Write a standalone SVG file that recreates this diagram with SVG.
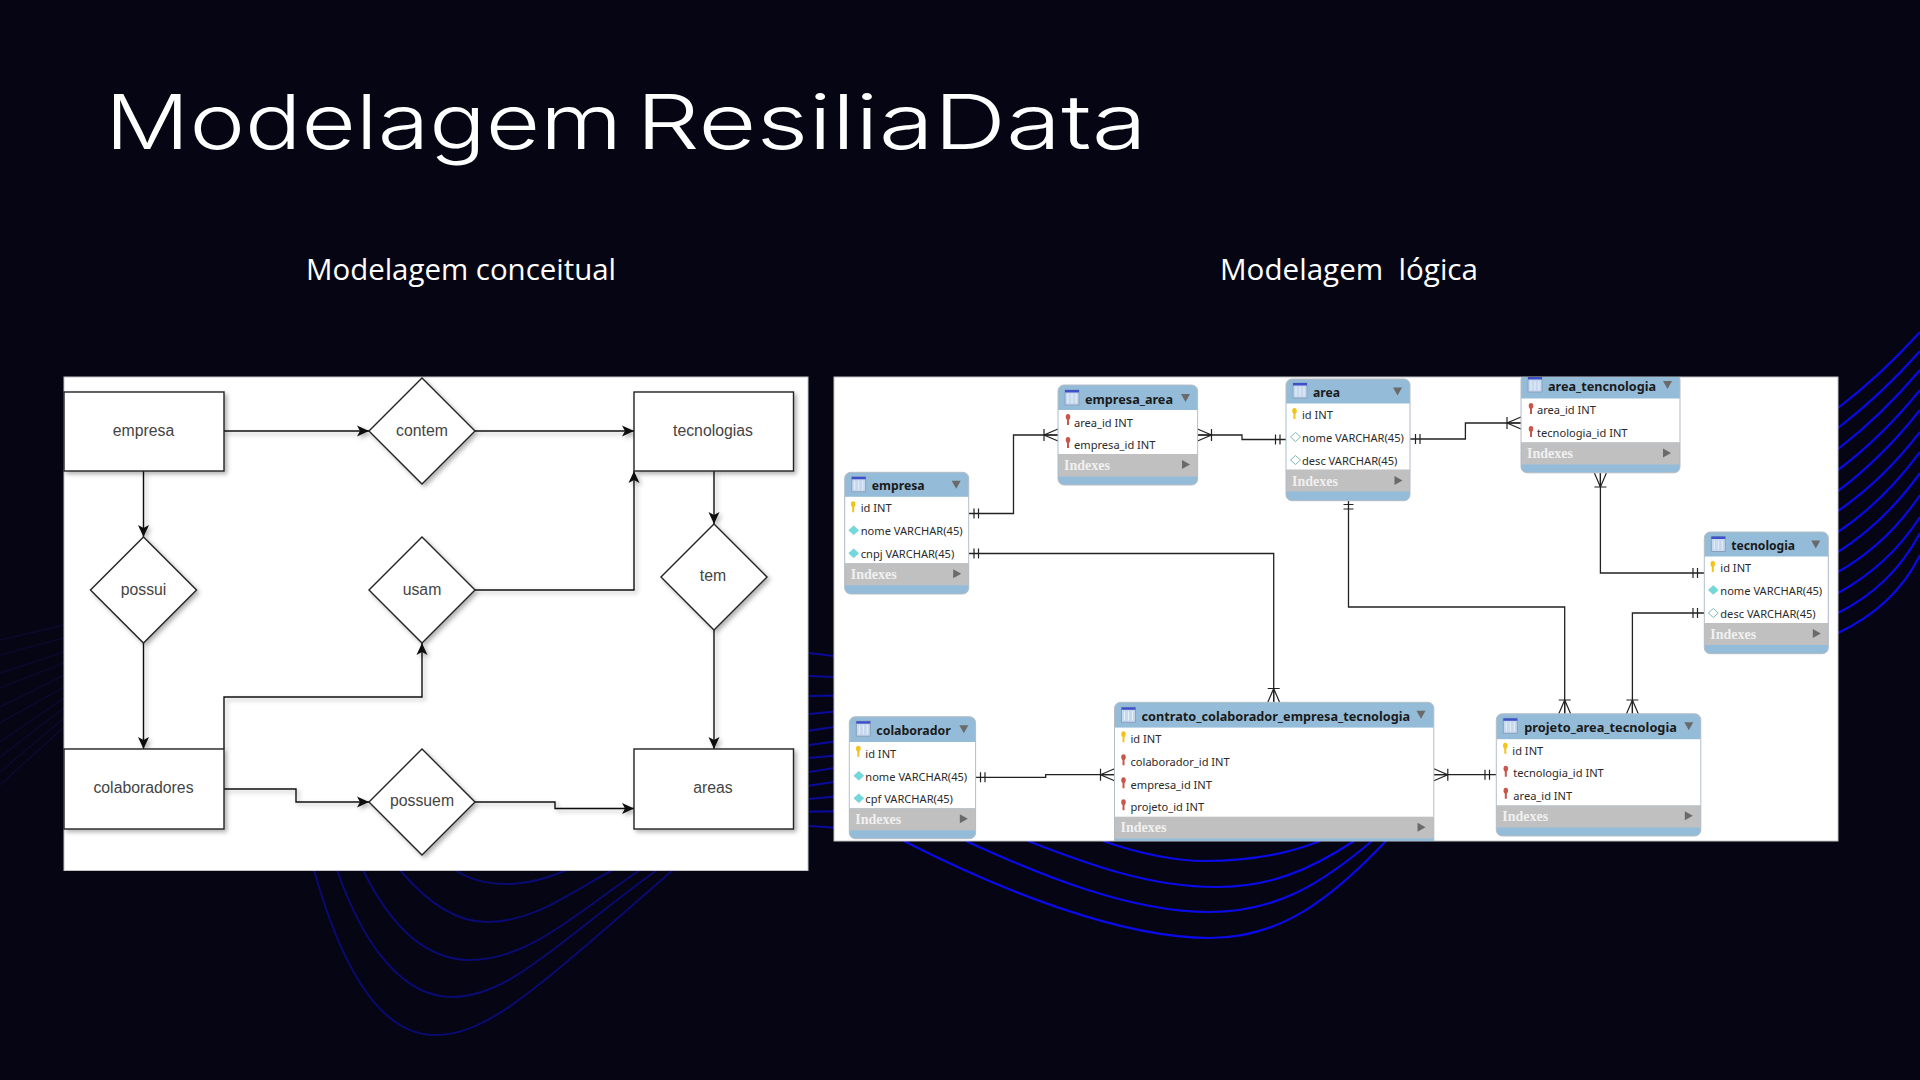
<svg xmlns="http://www.w3.org/2000/svg" width="1920" height="1080" viewBox="0 0 1920 1080">
<defs>
<style>
.title{font-family:"Inter","Liberation Sans",sans-serif;font-weight:300;font-size:76px;fill:#fff}
.sub{font-family:"Open Sans","Liberation Sans",sans-serif;font-size:29px;font-weight:400;fill:#fff;white-space:pre}
.er{fill:#fff;stroke:#222;stroke-width:1.4;filter:url(#sh)}
.lb{font-family:"Liberation Sans",Arial,sans-serif;font-size:15.800px;fill:#444;text-anchor:middle}
.cn{fill:none;stroke:#111;stroke-width:1.4}
.ca{marker-end:url(#arr)}
.wb{fill:none;stroke:#0a0ae6;stroke-width:2.200}
.wm{fill:none;stroke:#0a0a96;stroke-width:2.200}
.wd{fill:none;stroke:#0a0a70;stroke-width:2}
.wf{fill:none;stroke:#09092a;stroke-width:1.800}
.lk{fill:none;stroke:#222;stroke-width:1.3}
.tb{fill:#94bcd8;stroke:#b4bcc4;stroke-width:1}
.bd{fill:#fff}
.gr{fill:#c0c0c0}
.tt{font-family:"Noto Sans","Liberation Sans",sans-serif;font-weight:700;font-size:13px;fill:#1a1a1a}
.rw{font-family:"Noto Sans","Liberation Sans",sans-serif;font-size:11.100px;fill:#2a2a2a}
.ix{font-family:"Liberation Serif",serif;font-weight:700;font-size:14px;fill:#f0f0f0}
.ar{fill:#6a6a6a}
.ky{fill:#f0c419}
.kr{fill:#c9564a}
.dc{fill:#6fd9dc;stroke:#8cc6c8;stroke-width:.6}
.de{fill:#fff;stroke:#7fb8b8;stroke-width:1}
</style>
<filter id="sh" x="-20%" y="-20%" width="150%" height="150%"><feDropShadow dx="2.500" dy="2.500" stdDeviation="2" flood-color="#000" flood-opacity=".3"/></filter>
<marker id="arr" viewBox="0 -6 13 12" refX="12" refY="0" markerUnits="userSpaceOnUse" markerWidth="13" markerHeight="12" orient="auto"><path d="M0 -5.500L12 0L0 5.500L3 0Z" fill="#111"/></marker>
<clipPath id="rp"><rect x="834" y="377" width="1004" height="464"/></clipPath>
<g id="ti"><rect x="0" y="0" width="14" height="15" fill="#c6d8ee" stroke="#8aa0bc" stroke-width="1"/><rect x="0" y="0" width="14" height="2.500" fill="#3d50c8"/><path d="M3 4V13M7 4V13M11 4V13" stroke="#e8f0f8" stroke-width="1"/></g>
<path id="tr" d="M0 0H9L4.500 8Z"/>
<path id="tg" d="M0 0L8 4.500L0 9Z"/>
<path id="k" d="M-2.300 -3A2.300 3 0 0 1 2.300 -3C2.300 -1.200 1.200 -.4 1 0V5H-1V0C-1.200 -.4 -2.300 -1.200 -2.300 -3Z"/>
<path id="d" d="M0 -4.500L5 0L0 4.500L-5 0Z"/>
<path id="cf" d="M0 -6L-14 0L0 6M-14 -6V6M-14 0H0" fill="none" stroke="#222" stroke-width="1.200"/>
<path id="db" d="M0 -5V5M4.500 -5V5" fill="none" stroke="#222" stroke-width="1.200"/>
</defs>

<rect id="background" width="1920" height="1080" fill="#050514"/>

<g id="waves">
<path class="wb" d="M1838 408Q1880 376 1920 332"/>
<path class="wb" d="M1838 428Q1881 395 1920 351"/>
<path class="wb" d="M1838 449Q1881 416 1920 370"/>
<path class="wb" d="M1838 470Q1882 437 1920 390"/>
<path class="wb" d="M1838 491Q1882 458 1920 410"/>
<path class="wb" d="M1838 511Q1883 480 1920 432"/>
<path class="wb" d="M1838 532Q1884 501 1920 452"/>
<path class="wb" d="M1838 552Q1885 522 1920 473"/>
<path class="wb" d="M1838 572Q1887 544 1920 495"/>
<path class="wb" d="M1838 593Q1889 565 1920 517"/>
<path class="wb" d="M1838 613Q1892 586 1920 533"/>
<path class="wb" d="M1838 633Q1895 606 1920 555"/>
<path class="wm" d="M809 653L834 656"/>
<path class="wm" d="M809 676L834 677"/>
<path class="wm" d="M809 696L834 695.700"/>
<path class="wm" d="M809 714L834 711.700"/>
<path class="wm" d="M809 730.700L834 727"/>
<path class="wm" d="M809 745L834 741.700"/>
<path class="wm" d="M809 758L834 755.700"/>
<path class="wm" d="M809 772L834 768"/>
<path class="wm" d="M809 785.700L834 782"/>
<path class="wm" d="M809 799L834 796.700"/>
<path class="wm" d="M809 811.700L834 811.300"/>
<path class="wm" d="M809 826L834 827.700"/>
<path class="wb" d="M904 841C1000 890 1120 938 1210 938C1280 938 1330 900 1386 841"/>
<path class="wb" d="M966 841C1040 875 1130 912 1209 912C1275 912 1320 885 1372 841"/>
<path class="wb" d="M1028 841C1090 865 1150 887 1216 887C1270 887 1310 870 1354 841"/>
<path class="wb" d="M1103 841C1135 852 1170 861 1205 861C1250 861 1285 855 1320 841"/>
<path class="wd" d="M314 870C345 980 385 1035 435 1035C490 1035 540 985 673 870"/>
<path class="wd" d="M337 870C365 950 405 997 452 997C510 997 560 940 657 870"/>
<path class="wd" d="M363 870C390 925 425 960 470 960C530 960 580 910 640 870"/>
<path class="wd" d="M400 870C425 900 455 922 487 922C535 922 570 892 613 870"/>
<path class="wd" d="M455 870C470 880 490 884 507 884C528 884 548 878 567 870"/>
<path class="wf" d="M0 640L64 625"/>
<path class="wf" d="M0 655L64 638"/>
<path class="wf" d="M0 673L64 652"/>
<path class="wf" d="M0 688L64 663"/>
<path class="wf" d="M0 707L64 675"/>
<path class="wf" d="M0 723L64 687"/>
<path class="wf" d="M0 742L64 698"/>
<path class="wf" d="M0 757L64 708"/>
<path class="wf" d="M0 772L64 718"/>
<path class="wf" d="M0 785L64 727"/>
</g>

<text class="title" y="149"><tspan x="105" textLength="517" lengthAdjust="spacingAndGlyphs">Modelagem</tspan> <tspan x="636" textLength="511" lengthAdjust="spacingAndGlyphs">ResiliaData</tspan></text>
<text class="sub" x="306" y="280" textLength="310" lengthAdjust="spacingAndGlyphs">Modelagem conceitual</text>
<text class="sub" x="1220" y="280" textLength="258" lengthAdjust="spacingAndGlyphs">Modelagem  lógica</text>

<rect id="panel-conceitual" x="64" y="377" width="744" height="493.500" fill="#fff" stroke="#c4c4c4" stroke-width="1"/>
<rect id="panel-logica" x="834" y="377" width="1004" height="464" fill="#fff" stroke="#c4c4c4" stroke-width="1"/>

<g id="connectors-conceitual" filter="url(#sh)">
<path class="cn ca" d="M224 431H369"/>
<path class="cn ca" d="M475 431H634"/>
<path class="cn ca" d="M143.500 471V537"/>
<path class="cn ca" d="M143.500 643V749"/>
<path class="cn ca" d="M714 471V524"/>
<path class="cn ca" d="M714 630V749"/>
<path class="cn ca" d="M475 590H634V471"/>
<path class="cn ca" d="M224 749V697H422V643"/>
<path class="cn ca" d="M224 789H296V802H369"/>
<path class="cn ca" d="M475 802H555V808.500H634"/>
</g>

<g id="n-empresa"><rect class="er" x="64" y="392" width="160" height="79"/><text class="lb" x="143.500" y="436">empresa</text></g>
<g id="n-tecnologias"><rect class="er" x="634" y="392" width="159.500" height="79"/><text class="lb" x="713" y="436">tecnologias</text></g>
<g id="n-colaboradores"><rect class="er" x="64" y="749" width="160" height="80"/><text class="lb" x="143.500" y="793">colaboradores</text></g>
<g id="n-areas"><rect class="er" x="634" y="749" width="159.500" height="80"/><text class="lb" x="713" y="793">areas</text></g>
<g id="n-contem"><path class="er" d="M422 378L475 431L422 484L369 431Z"/><text class="lb" x="422" y="436">contem</text></g>
<g id="n-usam"><path class="er" d="M422 537L475 590L422 643L369 590Z"/><text class="lb" x="422" y="595">usam</text></g>
<g id="n-possui"><path class="er" d="M143.500 537L196.500 590L143.500 643L90.500 590Z"/><text class="lb" x="143.500" y="595">possui</text></g>
<g id="n-tem"><path class="er" d="M714 524L767 577L714 630L661 577Z"/><text class="lb" x="713" y="581">tem</text></g>
<g id="n-possuem"><path class="er" d="M422 749L475 802L422 855L369 802Z"/><text class="lb" x="422" y="806">possuem</text></g>

<g id="connectors-logica">
<path class="lk" d="M968.500 513.500H1013.500V435H1058"/>
<use href="#db" x="974" y="513.500"/>
<use href="#cf" transform="translate(1058 435)"/>
<path class="lk" d="M1197.500 435H1242V439.500H1286"/>
<use href="#cf" transform="translate(1197.500 435) rotate(180)"/>
<use href="#db" x="1275.500" y="439.500"/>
<path class="lk" d="M968.500 553.500H1273.700V702"/>
<use href="#db" x="974" y="553.500"/>
<use href="#cf" transform="translate(1273.700 702.500) rotate(90)"/>
<path class="lk" d="M1348.500 500.700V607H1564.700V714"/>
<use href="#db" transform="translate(1348.500 504.500) rotate(90)"/>
<use href="#cf" transform="translate(1564.700 714) rotate(90)"/>
<path class="lk" d="M1410 439H1465.400V423H1521"/>
<use href="#db" x="1415.500" y="439"/>
<use href="#cf" transform="translate(1521 423)"/>
<path class="lk" d="M1600.400 473V573H1704"/>
<use href="#cf" transform="translate(1600.400 473) rotate(-90)"/>
<use href="#db" x="1693" y="573"/>
<path class="lk" d="M1704 613H1632.400V714"/>
<use href="#db" x="1693" y="613"/>
<use href="#cf" transform="translate(1632.400 714) rotate(90)"/>
<path class="lk" d="M1433.800 774.700H1496.300"/>
<use href="#cf" transform="translate(1433.800 774.700) rotate(180)"/>
<use href="#db" x="1485" y="774.700"/>
<path class="lk" d="M975.600 777.300H1045.700V774.700H1114.500"/>
<use href="#db" x="980.500" y="777.300"/>
<use href="#cf" transform="translate(1114.500 774.700)"/>
</g>

<g id="t-empresa" transform="translate(844.700 472.300)">
<rect class="tb" width="124" height="121.700" rx="6"/><rect class="bd" x=".5" y="24.500" width="123" height="66.500"/><rect class="gr" x=".5" y="91" width="123" height="22"/>
<use href="#ti" x="7" y="4.500"/><text class="tt" x="27" y="18" textLength="53" lengthAdjust="spacingAndGlyphs">empresa</text><use class="ar" href="#tr" x="107" y="8.500"/>
<use class="ky" href="#k" x="8.500" y="35"/><text class="rw" x="16" y="40">id INT</text>
<use class="dc" href="#d" x="9" y="58"/><text class="rw" x="16" y="63">nome VARCHAR(45)</text>
<use class="dc" href="#d" x="9" y="81"/><text class="rw" x="16" y="86">cnpj VARCHAR(45)</text>
<text class="ix" x="6" y="106.500">Indexes</text><use class="ar" href="#tg" x="108.500" y="97"/>
</g>

<g id="t-empresa_area" transform="translate(1058 385)">
<rect class="tb" width="139.600" height="100" rx="6"/><rect class="bd" x=".5" y="25" width="138.600" height="44"/><rect class="gr" x=".5" y="69" width="138.600" height="22.500"/>
<use href="#ti" x="7" y="5"/><text class="tt" x="27" y="18.500" textLength="88" lengthAdjust="spacingAndGlyphs">empresa_area</text><use class="ar" href="#tr" x="123" y="9"/>
<use class="kr" href="#k" x="10" y="35"/><text class="rw" x="16" y="41.500">area_id INT</text>
<use class="kr" href="#k" x="10" y="58"/><text class="rw" x="16" y="64">empresa_id INT</text>
<text class="ix" x="6" y="85">Indexes</text><use class="ar" href="#tg" x="124" y="75"/>
</g>

<g id="t-area" transform="translate(1286 379)">
<rect class="tb" width="124" height="121.700" rx="6"/><rect class="bd" x=".5" y="24.500" width="123" height="66.500"/><rect class="gr" x=".5" y="90.500" width="123" height="22"/>
<use href="#ti" x="7" y="4"/><text class="tt" x="27" y="18" textLength="27" lengthAdjust="spacingAndGlyphs">area</text><use class="ar" href="#tr" x="107" y="8.500"/>
<use class="ky" href="#k" x="8.500" y="35"/><text class="rw" x="16" y="40">id INT</text>
<use class="de" href="#d" x="9.500" y="58"/><text class="rw" x="16" y="63">nome VARCHAR(45)</text>
<use class="de" href="#d" x="9.500" y="81"/><text class="rw" x="16" y="86">desc VARCHAR(45)</text>
<text class="ix" x="6" y="106.500">Indexes</text><use class="ar" href="#tg" x="108.500" y="97"/>
</g>

<g id="t-area_tencnologia" clip-path="url(#rp)">
<g transform="translate(1521 374)">
<rect class="tb" width="159" height="98.800" rx="6"/><rect class="bd" x=".5" y="24.500" width="158" height="44"/><rect class="gr" x=".5" y="68.400" width="158" height="22"/>
<use href="#ti" x="7" y="3"/><text class="tt" x="27" y="17" textLength="108" lengthAdjust="spacingAndGlyphs">area_tencnologia</text><use class="ar" href="#tr" x="142" y="7"/>
<use class="kr" href="#k" x="10" y="35"/><text class="rw" x="16" y="40">area_id INT</text>
<use class="kr" href="#k" x="10" y="58"/><text class="rw" x="16" y="63">tecnologia_id INT</text>
<text class="ix" x="6" y="84">Indexes</text><use class="ar" href="#tg" x="142" y="74.500"/>
</g></g>

<g id="t-tecnologia" transform="translate(1704.300 532)">
<rect class="tb" width="124" height="121.700" rx="6"/><rect class="bd" x=".5" y="24.500" width="123" height="66.500"/><rect class="gr" x=".5" y="91" width="123" height="22"/>
<use href="#ti" x="7" y="4.500"/><text class="tt" x="27" y="18" textLength="63.800" lengthAdjust="spacingAndGlyphs">tecnologia</text><use class="ar" href="#tr" x="107" y="8.500"/>
<use class="ky" href="#k" x="8.500" y="35"/><text class="rw" x="16" y="40">id INT</text>
<use class="dc" href="#d" x="9" y="58"/><text class="rw" x="16" y="63">nome VARCHAR(45)</text>
<use class="de" href="#d" x="9" y="81"/><text class="rw" x="16" y="86">desc VARCHAR(45)</text>
<text class="ix" x="6" y="106.500">Indexes</text><use class="ar" href="#tg" x="108.500" y="97"/>
</g>

<g id="t-colaborador" transform="translate(849.300 716.700)">
<rect class="tb" width="126.300" height="122" rx="6"/><rect class="bd" x=".5" y="25.300" width="125.300" height="66.300"/><rect class="gr" x=".5" y="91.600" width="125.300" height="22"/>
<use href="#ti" x="7" y="4.500"/><text class="tt" x="27" y="18.500" textLength="74.400" lengthAdjust="spacingAndGlyphs">colaborador</text><use class="ar" href="#tr" x="110" y="8.500"/>
<use class="ky" href="#k" x="9" y="35"/><text class="rw" x="16" y="41">id INT</text>
<use class="dc" href="#d" x="9.500" y="59"/><text class="rw" x="16" y="64">nome VARCHAR(45)</text>
<use class="dc" href="#d" x="9.500" y="81.500"/><text class="rw" x="16" y="86.500">cpf VARCHAR(45)</text>
<text class="ix" x="6" y="107">Indexes</text><use class="ar" href="#tg" x="110.500" y="97.500"/>
</g>

<g id="t-contrato_colaborador_empresa_tecnologia" clip-path="url(#rp)">
<g transform="translate(1114.500 702.300)">
<rect class="tb" width="319.300" height="145" rx="6"/><rect class="bd" x=".5" y="25.300" width="318.300" height="89.400"/><rect class="gr" x=".5" y="114.400" width="318.300" height="21.700"/>
<use href="#ti" x="7" y="5"/><text class="tt" x="27" y="18.500" textLength="268.700" lengthAdjust="spacingAndGlyphs">contrato_colaborador_empresa_tecnologia</text><use class="ar" href="#tr" x="302" y="8.500"/>
<use class="ky" href="#k" x="9" y="35"/><text class="rw" x="16" y="41">id INT</text>
<use class="kr" href="#k" x="9" y="58"/><text class="rw" x="16" y="64">colaborador_id INT</text>
<use class="kr" href="#k" x="9" y="81"/><text class="rw" x="16" y="86.500">empresa_id INT</text>
<use class="kr" href="#k" x="9" y="103"/><text class="rw" x="16" y="109">projeto_id INT</text>
<text class="ix" x="6" y="130">Indexes</text><use class="ar" href="#tg" x="303" y="120.500"/>
</g></g>

<g id="t-projeto_area_tecnologia" transform="translate(1496.300 713.800)">
<rect class="tb" width="204.500" height="122.200" rx="6"/><rect class="bd" x=".5" y="25.400" width="203.500" height="66.300"/><rect class="gr" x=".5" y="91.700" width="203.500" height="22"/>
<use href="#ti" x="7" y="4.500"/><text class="tt" x="28" y="18.500" textLength="152.600" lengthAdjust="spacingAndGlyphs">projeto_area_tecnologia</text><use class="ar" href="#tr" x="188" y="8.500"/>
<use class="ky" href="#k" x="9" y="35"/><text class="rw" x="16" y="41">id INT</text>
<use class="kr" href="#k" x="9.500" y="58"/><text class="rw" x="17" y="63.500">tecnologia_id INT</text>
<use class="kr" href="#k" x="9.500" y="80"/><text class="rw" x="17" y="86.500">area_id INT</text>
<text class="ix" x="6" y="107">Indexes</text><use class="ar" href="#tg" x="188.500" y="97.500"/>
</g>
</svg>
